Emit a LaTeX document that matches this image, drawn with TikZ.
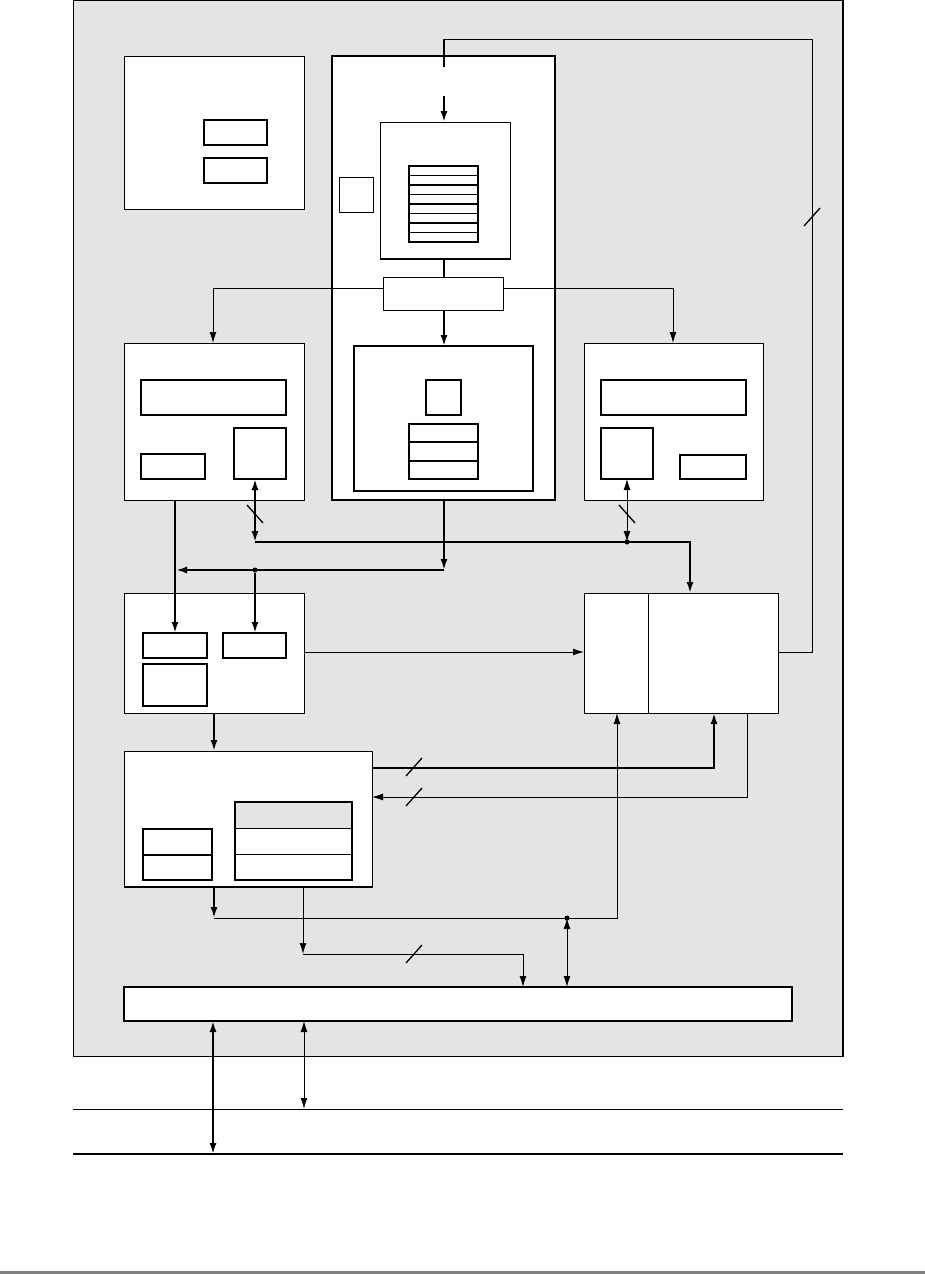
\documentclass[tikz,border=0pt]{standalone}
\usetikzlibrary{arrows.meta}
\definecolor{panel}{RGB}{228,228,228}
\newcommand\bx[6][]{\node[box,#1,minimum width={(#5-#3)*1pt},minimum height={(#6-#4)*1pt}] (#2) at ({(#3+#5)/2},{(#4+#6)/2}) {};}
\newcommand\fwdtick[2]{\draw[tickln] ({#1-8},{#2+9}) -- ({#1+8},{#2-9});}
\newcommand\backtick[2]{\draw[tickln] ({#1-8},{#2-9}) -- ({#1+8},{#2+9});}
\begin{document}
\begin{tikzpicture}[x=1pt,y=-1pt,
  box/.style={draw,fill=white,line width=1pt,inner sep=0pt,outer sep=0pt,rectangle},
  bbox/.style={box,line width=1.6pt},
  ln/.style={line width=1pt},
  tk/.style={line width=2pt},
  tickln/.style={line width=1.3pt},
  tip/.style={-{Latex[length=11pt,width=7pt]}},
  tips/.style={{Latex[length=11pt,width=7pt]}-{Latex[length=11pt,width=7pt]}},
  dot/.style={circle,fill,inner sep=0pt,minimum size=5pt}]

\useasboundingbox (0,0) rectangle (925,1274);
\fill[white] (0,0) rectangle (925,1274);
\fill[black!50] (0,1271) rectangle (925,1274);

% outer panel
\node[draw,fill=panel,line width=1pt,inner sep=0pt,outer sep=0pt,
      minimum width=770pt,minimum height=1056pt] (panel) at (458,528) {};
\draw[line width=2pt] (panel.north east) -- (panel.south east);
\coordinate (l1a) at (73,1109); \coordinate (l1b) at (843,1109);
\coordinate (l2a) at (73,1154); \coordinate (l2b) at (843,1154);
\draw[ln] (l1a) -- (l1b);
\draw[tk] (l2a) -- (l2b);

% box A
\bx{A}{124}{56}{304}{209}
\bx[bbox]{A1}{204}{120}{267}{145}
\bx[bbox]{A2}{204}{158}{267}{183}

% box B and contents
\bx[line width=2pt]{B}{332}{56}{555}{500}
\bx{Bs}{339}{177}{373}{212}
\bx{C}{380}{122}{510}{259}
\draw[tk] (C.south west) -- (C.south east);
\bx[line width=1.5pt]{Cs}{409}{166}{478}{242}
\foreach \k in {1,3,5,7} \draw[ln] (409,{166+9.5*\k}) -- (478,{166+9.5*\k});
\foreach \k in {2,4,6} \draw[line width=1.6pt] (409,{166+9.5*\k}) -- (478,{166+9.5*\k});
\bx{D}{383}{277}{503}{310}
\bx[bbox]{F}{354}{346}{533}{491}
\bx[bbox]{F1}{426}{380}{461}{415}
\bx[bbox]{F2}{409}{424}{478}{479}
\draw[tickln] (409,442) -- (478,442);
\draw[tickln] (409,461) -- (478,461);

% box E
\bx{E}{124}{343}{304}{500}
\bx[bbox]{E1}{141}{380}{286}{415}
\bx[bbox]{E2}{141}{454}{205}{479}
\bx[bbox]{E3}{234}{428}{286}{479}

% box G
\bx{G}{584}{343}{763}{500}
\bx[bbox]{G1}{601}{380}{746}{415}
\bx[bbox]{G2}{601}{428}{653}{479}
\bx[bbox]{G3}{680}{455}{746}{479}

% box I
\bx{I}{124}{593}{304}{713}
\bx[bbox]{I1}{143}{633}{207}{658}
\bx[bbox]{I2}{223}{633}{286}{658}
\bx[bbox]{I3}{143}{664}{207}{706}

% box H
\bx{H}{584}{593}{778}{713}
\draw[ln] (648,0 |- H.north) -- (648,0 |- H.south);

% box J
\bx{J}{124}{751}{372}{887}
\draw[tk] (J.south west) -- (J.south east);
\bx[bbox]{J1}{143}{829}{212}{880}
\draw[tickln] (143,855) -- (212,855);
\bx[bbox]{J2}{235}{802}{352}{880}
\fill[panel] (236,803) rectangle (351,828);
\draw[ln] (235,828) -- (352,828);
\draw[ln] (235,854) -- (352,854);

% box K
\bx[line width=2pt]{K}{124}{987}{792}{1021}

% ---- connectors ----
\draw[ln] (H.east |- 0,652) -- (812,652) -- (812,39) -- (444,39);
\draw[tk] (444,39) -- (444,67);
\fwdtick{812}{217}
\draw[tk,tip] (444,96) -- (444,0 |- C.north);
\draw[tk] (444,0 |- C.south) -- (444,0 |- D.north);
\draw[tk,tip] (444,0 |- D.south) -- (444,0 |- F.north);
\draw[ln,tip] (D.west |- 0,288) -- (213,288) -- (213,0 |- E.north);
\draw[ln,tip] (D.east |- 0,288) -- (673,288) -- (673,0 |- G.north);

\draw[tk,tips] (255,0 |- E3.south) -- (255,542);
\draw[tk,tip] (255,542) -- (690,542) -- (690,0 |- H.north);
\backtick{255}{514}
\draw[ln,tips] (G2.south) -- (627,542);
\backtick{627}{514}
\node[dot] (d1) at (627,542) {};

\draw[tk,tip] (444,0 |- B.south) -- (444,570);
\draw[tk,tip] (444,570) -- (176,570);
\node[dot] (d2) at (255,570) {};
\draw[tk,tip] (d2) -- (255,0 |- I2.north);
\draw[tk,tip] (175,0 |- E.south) -- (175,0 |- I1.north);

\draw[ln,tip] (I.east |- 0,652) -- (H.west |- 0,652);
\draw[tk,tip] (214,0 |- I.south) -- (214,0 |- J.north);

\draw[tk,tip] (J.east |- 0,768) -- (714,768) -- (714,0 |- H.south);
\fwdtick{414}{767}
\draw[ln,tip] (747,0 |- H.south) -- (747,797) -- (J.east |- 0,797);
\fwdtick{414}{797}

\draw[tk,tip] (214,0 |- J.south) -- (214,918);
\draw[ln,tip] (214,918) -- (617,918) -- (617,0 |- H.south);
\node[dot] (d3) at (567,918) {};
\draw[ln,tips] (567,918) -- (567,0 |- K.north);
\draw[ln,tip] (303,0 |- J.south) -- (303,954);
\draw[ln,tip] (303,954) -- (523,954) -- (523,0 |- K.north);
\fwdtick{414}{954}

\draw[tk,tips] (213,0 |- K.south) -- (213,1154);
\draw[ln,tips] (304,0 |- K.south) -- (304,1109);
\end{tikzpicture}
\end{document}
